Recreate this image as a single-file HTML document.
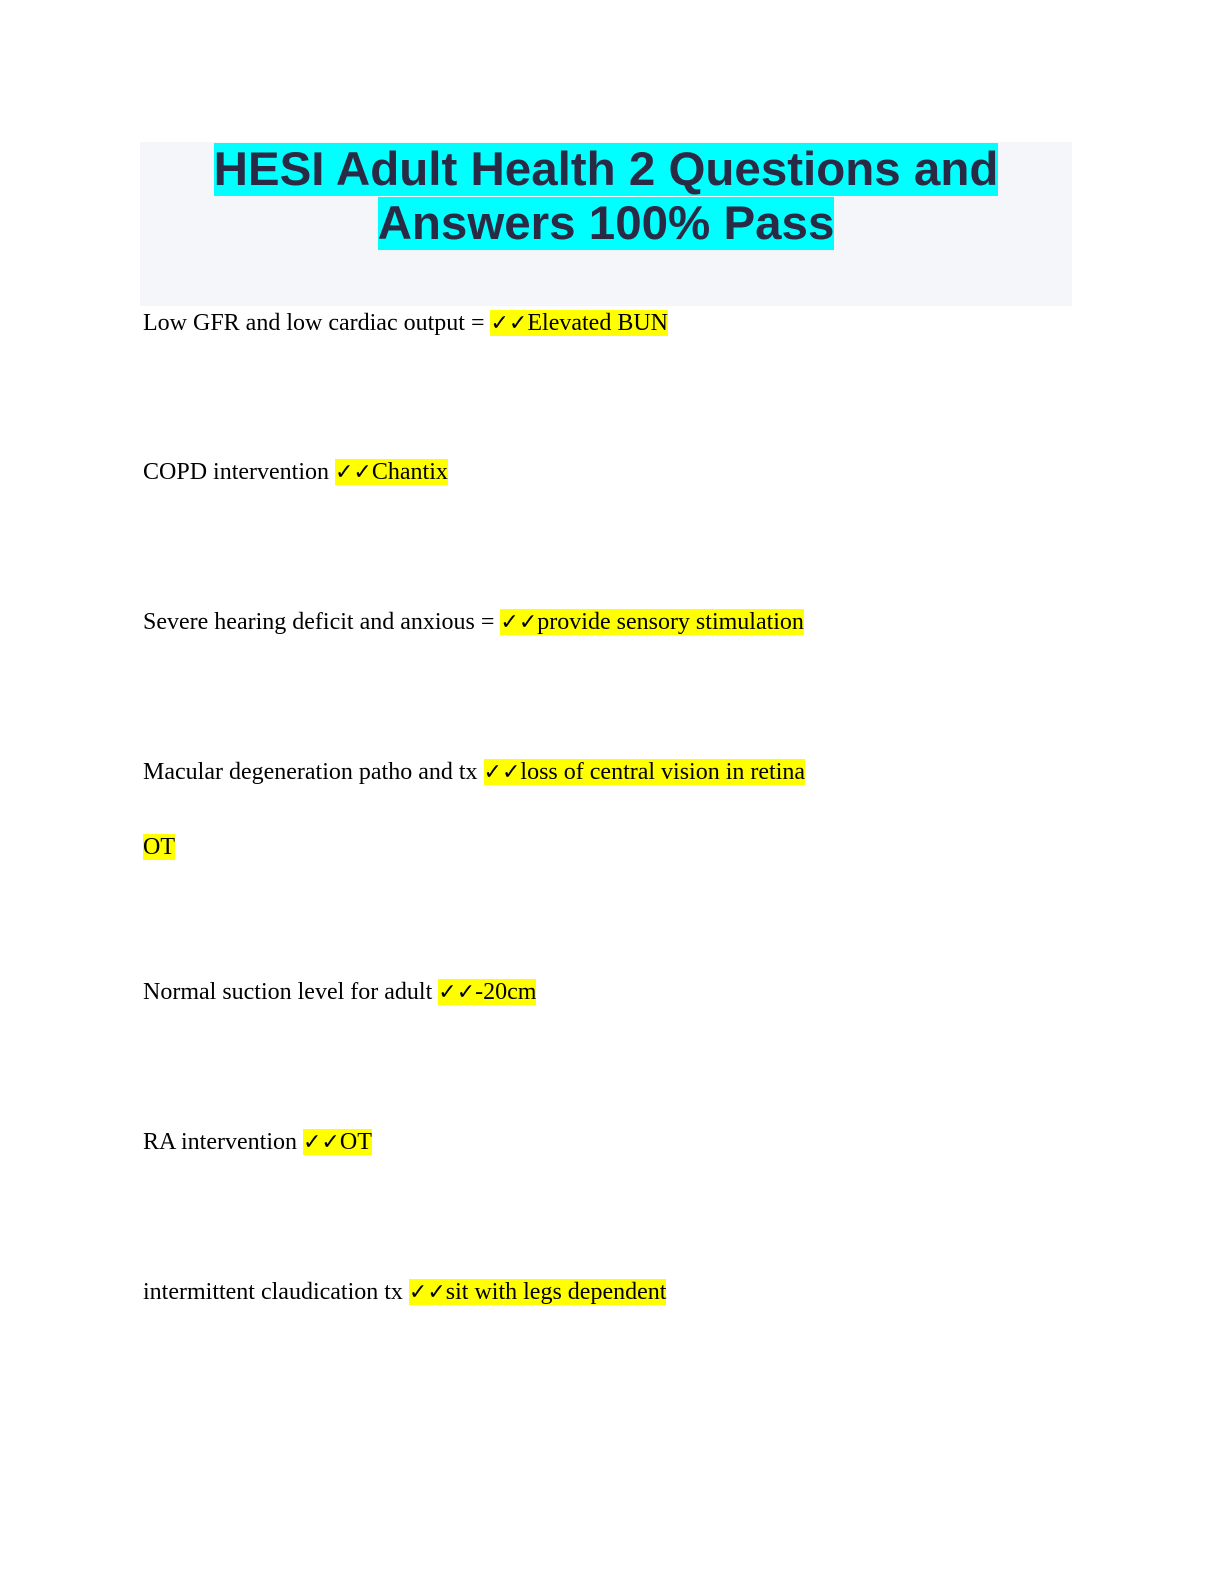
<!DOCTYPE html>
<html><head><meta charset="utf-8"><style>
body{margin:0;width:1224px;height:1584px;background:#fff;position:relative;font-family:"Liberation Serif",serif;}
.tb{position:absolute;left:140px;top:142px;width:932px;height:164px;background:#f5f6fa;}
.t{position:absolute;left:140px;width:932px;text-align:center;font-family:"Liberation Sans",sans-serif;font-weight:bold;font-size:47.5px;color:#2b2a45;line-height:54px;}
.t span{background:#00ffff;}
.l{position:absolute;left:143px;font-size:24px;line-height:29px;color:#000;white-space:nowrap;}
.h{background:#ffff00;}
.c{font-family:"DejaVu Sans",sans-serif;font-weight:bold;font-size:22px;}
</style></head><body>
<div class="tb"></div>
<div class="t" style="top:143px"><span>HESI Adult Health 2 Questions and</span></div>
<div class="t" style="top:197px"><span>Answers 100% Pass</span></div>
<div class="l" style="top:309px">Low GFR and low cardiac output = <span class="h"><span class="c">✓✓</span>Elevated BUN</span></div>
<div class="l" style="top:458px">COPD intervention <span class="h"><span class="c">✓✓</span>Chantix</span></div>
<div class="l" style="top:608px">Severe hearing deficit and anxious = <span class="h"><span class="c">✓✓</span>provide sensory stimulation</span></div>
<div class="l" style="top:758px">Macular degeneration patho and tx <span class="h"><span class="c">✓✓</span>loss of central vision in retina</span></div>
<div class="l" style="top:833px"><span class="h">OT</span></div>
<div class="l" style="top:978px">Normal suction level for adult <span class="h"><span class="c">✓✓</span>-20cm</span></div>
<div class="l" style="top:1128px">RA intervention <span class="h"><span class="c">✓✓</span>OT</span></div>
<div class="l" style="top:1278px">intermittent claudication tx <span class="h"><span class="c">✓✓</span>sit with legs dependent</span></div>
</body></html>
